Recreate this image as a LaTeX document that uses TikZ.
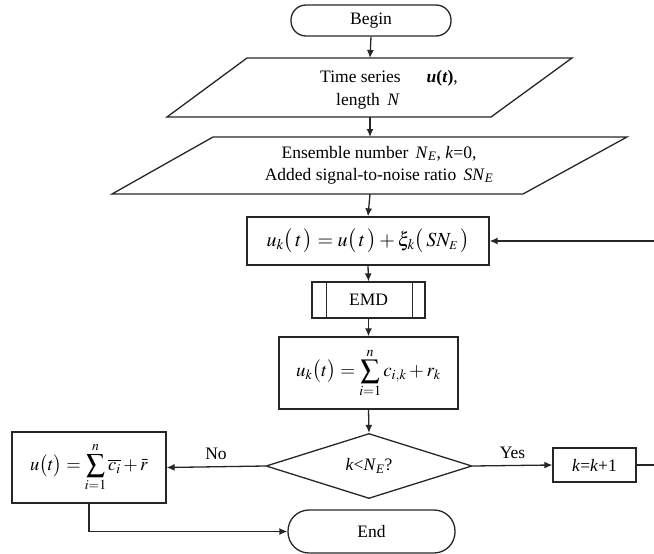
\documentclass[tikz,border=0pt]{standalone}
\usepackage{mathptmx}
\usepackage[no-math]{fontspec}
\setmainfont{Liberation Serif}
\usetikzlibrary{shapes.geometric,arrows.meta}
\tikzset{
  base/.style={draw=black!85, line width=1.3pt, inner sep=0pt, align=center},
  term/.style={base, rectangle, minimum width=#1, rounded corners=15pt},
  proc/.style={base, rectangle},
  dec/.style={base, diamond, minimum width=206pt, minimum height=65pt},
  conn/.style={draw=black!85, line width=1.3pt},
  arr/.style={conn, -{Latex[length=8pt,width=7pt]}},
  lbl/.style={inner sep=0pt, font=\fontsize{17.5}{21}\selectfont},
  mathbig/.style={font=\fontsize{20}{24}\selectfont},
}
\begin{document}
\begin{tikzpicture}[x=1pt,y=-1pt, font=\fontsize{17.5}{21}\selectfont]
\useasboundingbox (0,0) rectangle (654,554);
% Begin
\node[term=160pt, minimum height=31pt] (begin) at (371,20.5) {Begin};
% Parallelogram 1
\draw[conn, line join=miter] (247,58) -- (572,58) -- (491,117) -- (167,117) -- cycle;
\coordinate (p1t) at (370,58);
\coordinate (p1b) at (370,117);
\node[lbl, anchor=base] (t1a) at (389,82) {Time series\hspace{26pt}\textbf{\textit{u}(\textit{t})},};
\node[lbl, anchor=base] (t1b) at (368,105) {length \,\textit{N}};
% Parallelogram 2
\draw[conn, line join=miter] (213,137) -- (627,137) -- (523,194) -- (112,194) -- cycle;
\coordinate (p2t) at (370,137);
\coordinate (p2b) at (370,194);
\node[lbl, align=center] (t2) at (379,165) {Ensemble number \,\textit{N}\textsubscript{\textit{E}}, \textit{k}=0,\\[1pt] Added signal-to-noise ratio \,\textit{SN}\textsubscript{\textit{E}}};
% Box 1
\node[proc, mathbig, minimum width=242pt, minimum height=48pt] (b1) at (368,241) {$u_k\bigl(\,t\,\bigr)=u\bigl(\,t\,\bigr)+\xi_k\bigl(\,SN_{\scriptscriptstyle E}\,\bigr)$};
% EMD
\node[proc, minimum width=113pt, minimum height=36pt] (emd) at (368.5,300) {EMD};
\draw[conn] ([xshift=15pt]emd.north west) -- ([xshift=15pt]emd.south west);
\draw[conn] ([xshift=-13pt]emd.north east) -- ([xshift=-13pt]emd.south east);
% Box 2
\node[proc, font=\fontsize{19}{23}\selectfont, minimum width=179pt, minimum height=72pt] (b2) at (368.5,373) {$\displaystyle u_k\bigl(t\bigr)=\sum_{i=1}^{n}c_{i,k}+r_k$};
% Decision
\node[dec] (d) at (369,466) {\textit{k}<\textit{N}\textsubscript{\textit{E}}?};
% Left box
\node[proc, font=\fontsize{18.5}{22}\selectfont, minimum width=154pt, minimum height=71pt] (lb) at (89,467.5) {$\displaystyle u\bigl(t\bigr)=\sum_{i=1}^{n}\overline{c_i}+\bar{r}$};
% k box
\node[proc, minimum width=83pt, minimum height=34pt] (kb) at (594.5,465) {\textit{k}=\textit{k}+1};
% End
\node[term=167pt, minimum height=43pt, rounded corners=21pt] (end) at (371.5,531.5) {End};
% loop coordinate
\coordinate (loop) at (670,241);
% connectors
\draw[arr] (begin.south) -- (p1t);
\draw[arr] (p1b) -- (p2t);
\draw[arr] (p2b) -- (b1.north);
\draw[arr] (b1.south) -- (emd.north);
\draw[arr] (emd.south) -- (b2.north);
\draw[arr] (b2.south) -- (d.north);
\draw[arr] (d.west) -- node[lbl, above=6pt] (no) {No} (lb.east);
\draw[arr] (d.east) -- node[lbl, above=6pt] (yes) {Yes} (kb.west);
\draw[arr] (lb.south) |- (end.west);
\draw[arr] (kb.east) -- (kb.east -| loop) -- (loop) -- (b1.east);
\end{tikzpicture}
\end{document}
